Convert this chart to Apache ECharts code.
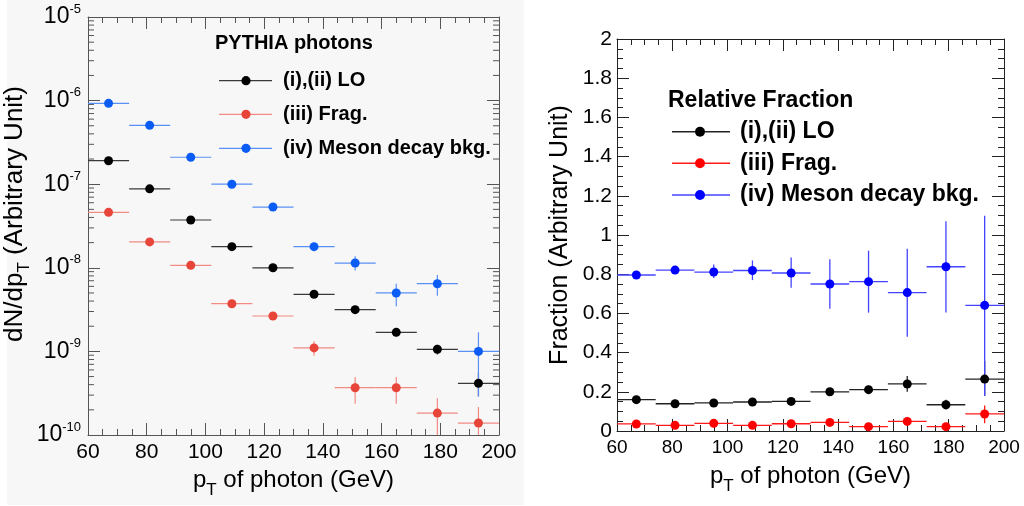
<!DOCTYPE html>
<html>
<head>
<meta charset="utf-8">
<script src="https://cdn.jsdelivr.net/npm/echarts@6/dist/echarts.min.js"></script>
<style>
html,body{margin:0;padding:0;background:#fff;}
#c{width:1024px;height:506px;}
</style>
</head>
<body>
<div id="c"></div>
<script>
// ---------- DATA ----------
const ptCenters = [67, 81, 95, 109, 123, 137, 151, 165, 179, 193];
const binWidth = 14;
const xTicks = [60, 80, 100, 120, 140, 160, 180, 200];

// Left panel: dN/dpT (arbitrary unit)
const loYield    = [1.91e-7, 8.8e-8, 3.73e-8, 1.79e-8, 1.0e-8, 4.82e-9, 3.16e-9, 1.69e-9, 1.06e-9, 4.15e-10];
const loYieldLo  = [1.86e-7, 8.5e-8, 3.6e-8, 1.73e-8, 9.6e-9, 4.6e-9, 2.98e-9, 1.52e-9, 9.2e-10, 2.9e-10];
const loYieldHi  = [1.96e-7, 9.1e-8, 3.86e-8, 1.85e-8, 1.04e-8, 5.05e-9, 3.35e-9, 1.86e-9, 1.2e-9, 5.6e-10];

const fragYield   = [4.61e-8, 2.04e-8, 1.07e-8, 3.72e-9, 2.65e-9, 1.10e-9, 3.68e-10, 3.68e-10, 1.83e-10, 1.39e-10];
const fragYieldLo = [4.45e-8, 1.95e-8, 1.01e-8, 3.45e-9, 2.45e-9, 8.87e-10, 2.37e-10, 2.37e-10, 6e-11, 6e-11];
const fragYieldHi = [4.77e-8, 2.13e-8, 1.13e-8, 3.99e-9, 2.85e-9, 1.32e-9, 4.94e-10, 4.94e-10, 2.75e-10, 2.16e-10];

const mesonYield   = [9.27e-7, 5.06e-7, 2.1e-7, 1.0e-7, 5.33e-8, 1.79e-8, 1.14e-8, 5.0e-9, 6.45e-9, 1.0e-9];
const mesonYieldLo = [9.05e-7, 4.92e-7, 2.03e-7, 9.6e-8, 5.1e-8, 1.62e-8, 9.3e-9, 3.47e-9, 4.64e-9, 2.9e-10];
const mesonYieldHi = [9.5e-7, 5.2e-7, 2.17e-7, 1.04e-7, 5.56e-8, 1.96e-8, 1.37e-8, 6.45e-9, 8.2e-9, 1.69e-9];

// Right panel: relative fraction
const loFrac    = [0.160, 0.139, 0.143, 0.148, 0.151, 0.200, 0.211, 0.240, 0.134, 0.265];
const loFracLo  = [0.150, 0.129, 0.133, 0.136, 0.139, 0.185, 0.191, 0.200, 0.110, 0.180];
const loFracHi  = [0.170, 0.149, 0.153, 0.160, 0.163, 0.215, 0.231, 0.280, 0.160, 0.357];

const fragFrac   = [0.036, 0.029, 0.039, 0.029, 0.037, 0.044, 0.022, 0.049, 0.022, 0.087];
const fragFracLo = [0.028, 0.021, 0.031, 0.021, 0.029, 0.034, 0.014, 0.037, 0.012, 0.040];
const fragFracHi = [0.044, 0.037, 0.047, 0.037, 0.045, 0.054, 0.030, 0.061, 0.032, 0.130];

const mesonFrac   = [0.796, 0.821, 0.811, 0.819, 0.806, 0.750, 0.762, 0.706, 0.838, 0.641];
const mesonFracLo = [0.784, 0.801, 0.780, 0.770, 0.731, 0.624, 0.604, 0.481, 0.604, 0.178];
const mesonFracHi = [0.808, 0.841, 0.850, 0.870, 0.885, 0.876, 0.920, 0.930, 1.070, 1.098];

const seriesNames = ['(i),(ii) LO', '(iii) Frag.', '(iv) Meson decay bkg.'];
const leftTitle = 'PYTHIA photons';
const rightTitle = 'Relative Fraction';

// ---------- STYLE ----------
const FONT = 'Liberation Sans';
const leftColors  = { marker: ['#000000', '#e8453a', '#0a5cf5'], line: ['#3a3a3a', '#f28a82', '#5a90f5'] };
const rightColors = { marker: ['#000000', '#ff0000', '#0000ff'], line: ['#222222', '#ff1a1a', '#4444ff'] };

const G0 = { left: 88, top: 17, width: 411, height: 418 };
const G1 = { left: 617, top: 39, width: 387, height: 392 };

const chart = echarts.init(document.getElementById('c'), null, { renderer: 'canvas' });

function rows(x, y, lo, hi) { return x.map((v, i) => [v, y[i], lo[i], hi[i]]); }

function errSeries(name, data, xi, yi, color, lw) {
  return {
    type: 'custom', name: name, xAxisIndex: xi, yAxisIndex: yi, clip: true, z: 3,
    dimensions: ['x', 'y', 'lo', 'hi'], encode: { x: 0, y: 1 },
    data: data,
    renderItem: function (params, api) {
      const x = api.value(0), y = api.value(1), lo = api.value(2), hi = api.value(3);
      const a = api.coord([x - binWidth / 2, y]);
      const b = api.coord([x + binWidth / 2, y]);
      const c = api.coord([x, lo]);
      const d = api.coord([x, hi]);
      return { type: 'group', children: [
        { type: 'line', shape: { x1: a[0], y1: a[1], x2: b[0], y2: b[1] }, style: { stroke: color, lineWidth: lw } },
        { type: 'line', shape: { x1: c[0], y1: c[1], x2: d[0], y2: d[1] }, style: { stroke: color, lineWidth: lw } }
      ]};
    }
  };
}
function dotSeries(name, xs, ys, xi, yi, color, size) {
  return {
    type: 'scatter', name: name, xAxisIndex: xi, yAxisIndex: yi, z: 5,
    symbol: 'circle', symbolSize: size, itemStyle: { color: color, opacity: 1 },
    data: xs.map((v, i) => [v, ys[i]]), silent: true
  };
}

// log minor ticks (2..9 per decade) drawn through the log scale
const logMinor = [];
for (let e = -10; e < -5; e++) for (let m = 2; m <= 9; m++) logMinor.push([60, m * Math.pow(10, e)]);

const frameColorL = '#555555';
const frameColorR = '#222222';

function xAx(grid, pos, show, color, fs, name) {
  return {
    type: 'value', gridIndex: grid, position: pos, min: 60, max: 200, interval: 20,
    axisLine: { show: true, onZero: false, lineStyle: { color: color, width: 1 } },
    axisTick: { show: true, inside: true, length: 12, lineStyle: { color: color } },
    minorTick: { show: true, splitNumber: 4, length: 6, lineStyle: { color: color } },
    splitLine: { show: false },
    axisLabel: { show: show, fontFamily: FONT, fontSize: fs, color: '#000', margin: 7, showMinLabel: true, showMaxLabel: true },
    name: show ? name : '', nameLocation: 'middle', nameGap: 27,
    nameTextStyle: { fontFamily: FONT, fontSize: 24, color: '#000',
      rich: { sub: { fontFamily: FONT, fontSize: 17, color: '#000', padding: [20, 0, 0, 0] } } }
  };
}

const option = {
  animation: false,
  backgroundColor: '#ffffff',
  grid: [
    { left: G0.left, top: G0.top, width: G0.width, height: G0.height, containLabel: false },
    { left: G1.left, top: G1.top, width: G1.width, height: G1.height, containLabel: false }
  ],
  xAxis: [
    xAx(0, 'bottom', true, frameColorL, 21, 'p{sub|T} of photon (GeV)'),
    xAx(0, 'top', false, frameColorL, 21, ''),
    xAx(1, 'bottom', true, frameColorR, 19, 'p{sub|T} of photon (GeV)'),
    xAx(1, 'top', false, frameColorR, 19, '')
  ],
  yAxis: [
    {
      type: 'log', logBase: 10, gridIndex: 0, position: 'left', min: 1e-10, max: 1e-5, splitNumber: 5,
      axisLine: { show: true, onZero: false, lineStyle: { color: frameColorL } },
      axisTick: { show: true, inside: true, length: 12, lineStyle: { color: frameColorL } },
      splitLine: { show: false },
      axisLabel: {
        show: true, margin: 7, color: '#000',
        formatter: function (v) { return '{b|10}{s|' + Math.round(Math.log10(v)) + '}'; },
        rich: {
          b: { fontFamily: FONT, fontSize: 23, color: '#000' },
          s: { fontFamily: FONT, fontSize: 13, color: '#000', padding: [0, 0, 16, 0] }
        }
      },
      name: 'dN/dp{sub|T} (Arbitrary Unit)', nameLocation: 'middle', nameGap: 46, nameRotate: 90,
      nameTextStyle: { fontFamily: FONT, fontSize: 26, color: '#000', padding: [0, 0, 0, 24],
        rich: { sub: { fontFamily: FONT, fontSize: 17, color: '#000', padding: [18, 0, 0, 0] } } }
    },
    {
      type: 'log', logBase: 10, gridIndex: 0, position: 'right', min: 1e-10, max: 1e-5, splitNumber: 5,
      axisLine: { show: true, onZero: false, lineStyle: { color: frameColorL } },
      axisTick: { show: true, inside: true, length: 12, lineStyle: { color: frameColorL } },
      splitLine: { show: false }, axisLabel: { show: false }
    },
    {
      type: 'value', gridIndex: 1, position: 'left', min: 0, max: 2, interval: 0.2,
      axisLine: { show: true, onZero: false, lineStyle: { color: frameColorR } },
      axisTick: { show: true, inside: true, length: 12, lineStyle: { color: frameColorR } },
      minorTick: { show: true, splitNumber: 4, length: 6, lineStyle: { color: frameColorR } },
      splitLine: { show: false },
      axisLabel: { show: true, fontFamily: FONT, fontSize: 21, color: '#000', margin: 5,
        formatter: function (v) { return String(Math.round(v * 10) / 10); } },
      name: 'Fraction (Arbitrary Unit)', nameLocation: 'middle', nameGap: 44, nameRotate: 90,
      nameTextStyle: { fontFamily: FONT, fontSize: 25, color: '#000' }
    },
    {
      type: 'value', gridIndex: 1, position: 'right', min: 0, max: 2, interval: 0.2,
      axisLine: { show: true, onZero: false, lineStyle: { color: frameColorR } },
      axisTick: { show: true, inside: true, length: 12, lineStyle: { color: frameColorR } },
      minorTick: { show: true, splitNumber: 4, length: 6, lineStyle: { color: frameColorR } },
      splitLine: { show: false }, axisLabel: { show: false }
    }
  ],
  graphic: [
    { type: 'rect', z: -100, silent: true, shape: { x: 7, y: 0, width: 517, height: 505 }, style: { fill: '#f7f7f7' } },
    // left legend
    { type: 'text', left: 215, top: 33, style: { text: leftTitle, font: 'bold 20px "Liberation Sans"', fill: '#000' } },
    ...[80.7, 114.3, 148.3].flatMap((yy, i) => [
      { type: 'line', shape: { x1: 219, y1: yy, x2: 272, y2: yy }, style: { stroke: leftColors.line[i], lineWidth: 1.2 } },
      { type: 'circle', shape: { cx: 246, cy: yy, r: 4.6 }, style: { fill: leftColors.marker[i] } },
      { type: 'text', x: 283, y: yy, style: { text: seriesNames[i], font: 'bold 20px "Liberation Sans"', fill: '#000', verticalAlign: 'middle' } }
    ]),
    // right legend
    { type: 'text', x: 668, y: 101, style: { text: rightTitle, font: 'bold 23px "Liberation Sans"', fill: '#000', verticalAlign: 'middle' } },
    ...[131.7, 163.3, 195].flatMap((yy, i) => [
      { type: 'line', shape: { x1: 672, y1: yy, x2: 730, y2: yy }, style: { stroke: rightColors.line[i], lineWidth: 1.6 } },
      { type: 'circle', shape: { cx: 700, cy: yy, r: 5 }, style: { fill: rightColors.marker[i] } },
      { type: 'text', x: 740, y: yy, style: { text: seriesNames[i], font: 'bold 23px "Liberation Sans"', fill: '#000', verticalAlign: 'middle' } }
    ])
  ],
  series: [
    {
      type: 'custom', xAxisIndex: 0, yAxisIndex: 0, silent: true, z: 2,
      data: logMinor,
      renderItem: function (params, api) {
        const v = api.value(1);
        const pl = api.coord([60, v]);
        const pr = api.coord([200, v]);
        return { type: 'group', children: [
          { type: 'line', shape: { x1: pl[0], y1: pl[1], x2: pl[0] + 6, y2: pl[1] }, style: { stroke: frameColorL, lineWidth: 1 } },
          { type: 'line', shape: { x1: pr[0], y1: pr[1], x2: pr[0] - 6, y2: pr[1] }, style: { stroke: frameColorL, lineWidth: 1 } }
        ]};
      }
    },
    errSeries(seriesNames[0], rows(ptCenters, loYield, loYieldLo, loYieldHi), 0, 0, leftColors.line[0], 1.2),
    errSeries(seriesNames[1], rows(ptCenters, fragYield, fragYieldLo, fragYieldHi), 0, 0, leftColors.line[1], 1.2),
    errSeries(seriesNames[2], rows(ptCenters, mesonYield, mesonYieldLo, mesonYieldHi), 0, 0, leftColors.line[2], 1.2),
    dotSeries(seriesNames[0], ptCenters, loYield, 0, 0, leftColors.marker[0], 9),
    dotSeries(seriesNames[1], ptCenters, fragYield, 0, 0, leftColors.marker[1], 9),
    dotSeries(seriesNames[2], ptCenters, mesonYield, 0, 0, leftColors.marker[2], 9),

    errSeries(seriesNames[0], rows(ptCenters, loFrac, loFracLo, loFracHi), 2, 2, rightColors.line[0], 1.3),
    errSeries(seriesNames[1], rows(ptCenters, fragFrac, fragFracLo, fragFracHi), 2, 2, rightColors.line[1], 1.3),
    errSeries(seriesNames[2], rows(ptCenters, mesonFrac, mesonFracLo, mesonFracHi), 2, 2, rightColors.line[2], 1.3),
    dotSeries(seriesNames[0], ptCenters, loFrac, 2, 2, rightColors.marker[0], 9),
    dotSeries(seriesNames[1], ptCenters, fragFrac, 2, 2, rightColors.marker[1], 9),
    dotSeries(seriesNames[2], ptCenters, mesonFrac, 2, 2, rightColors.marker[2], 9)
  ]
};
chart.setOption(option);
</script>
</body>
</html>
